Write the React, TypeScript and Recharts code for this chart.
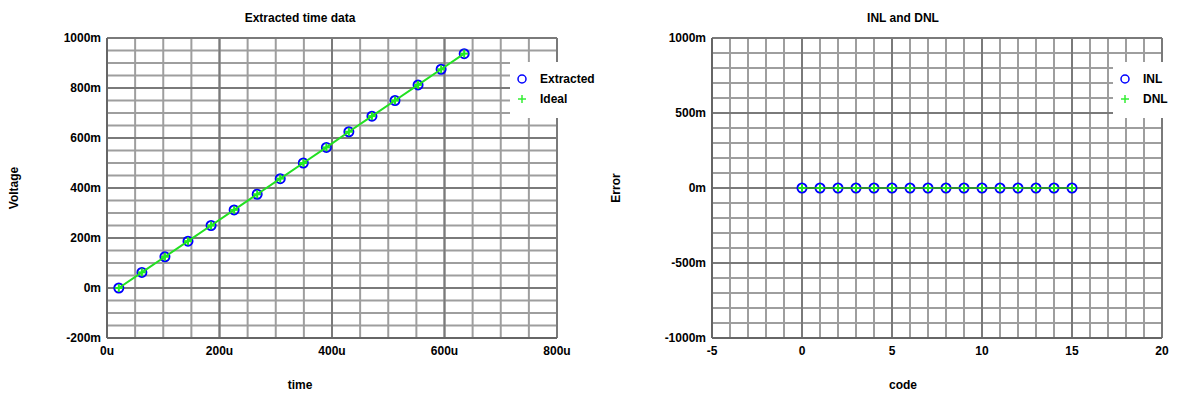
import {
  ScatterChart,
  Scatter,
  XAxis,
  YAxis,
  ReferenceLine,
  Legend,
} from "recharts";

const times = [21, 62, 103, 144, 185, 226, 267, 308, 349, 390, 430, 471, 512, 553, 594, 635]; // u
const extractedVoltage = [0, 62.5, 125, 187.5, 250, 312.5, 375, 437.5, 500, 562.5, 625, 687.5, 750, 812.5, 875, 937.5]; // m
const idealVoltage = [0, 62.5, 125, 187.5, 250, 312.5, 375, 437.5, 500, 562.5, 625, 687.5, 750, 812.5, 875, 937.5]; // m

const codes = [0, 1, 2, 3, 4, 5, 6, 7, 8, 9, 10, 11, 12, 13, 14, 15];
const inl = [0, 0, 0, 0, 0, 0, 0, 0, 0, 0, 0, 0, 0, 0, 0, 0];
const dnl = [0, 0, 0, 0, 0, 0, 0, 0, 0, 0, 0, 0, 0, 0, 0, 0];

const timeTicks = [0, 200, 400, 600, 800];
const voltageTicks = [-200, 0, 200, 400, 600, 800, 1000];
const codeTicks = [-5, 0, 5, 10, 15, 20];
const errorTicks = [-1000, -500, 0, 500, 1000];

// minor grid steps
const range = (a: number, b: number, step: number) => {
  const out: number[] = [];
  for (let v = a; v <= b + 1e-9; v += step) out.push(v);
  return out;
};
const timeMinor = range(0, 800, 50);
const voltageMinor = range(-200, 1000, 50);
const codeMinor = range(-5, 20, 1);
const errorMinor = range(-1000, 1000, 100);

const extractedData = times.map((t, i) => ({ x: t, y: extractedVoltage[i] }));
const idealData = times.map((t, i) => ({ x: t, y: idealVoltage[i] }));
const inlData = codes.map((c, i) => ({ x: c, y: inl[i] }));
const dnlData = codes.map((c, i) => ({ x: c, y: dnl[i] }));

const FONT = "'Liberation Sans', Arial, sans-serif";
const tickStyle = { fill: "#000", fontSize: 12, fontWeight: 700, fontFamily: FONT };
const axisLine = { stroke: "#666", strokeWidth: 2 };
const MINOR = "#9e9e9e";
const MAJOR = "#7a7a7a";

const gridLines = (xs: number[], ys: number[], color: string, tag: string) => [
  ...xs.map((v) => (
    <ReferenceLine key={`${tag}x${v}`} x={v} stroke={color} strokeWidth={2} ifOverflow="visible" />
  )),
  ...ys.map((v) => (
    <ReferenceLine key={`${tag}y${v}`} y={v} stroke={color} strokeWidth={2} ifOverflow="visible" />
  )),
];

const Circle = (props: any) => {
  const { cx, cy } = props;
  if (cx == null || cy == null) return null;
  return <circle cx={cx} cy={cy} r={4.5} fill="none" stroke="#0000ff" strokeWidth={2} />;
};

const Plus = (color: string) => (props: any) => {
  const { cx, cy } = props;
  if (cx == null || cy == null) return null;
  return (
    <g stroke={color} strokeWidth={2}>
      <line x1={cx - 4} y1={cy} x2={cx + 4} y2={cy} />
      <line x1={cx} y1={cy - 4} x2={cx} y2={cy + 4} />
    </g>
  );
};

const LegendBox = ({ labels, width }: { labels: string[]; width: number }) => (
  <svg width={width} height={56} style={{ display: "block", background: "#fff" }}>
    <circle cx={12} cy={17} r={4} fill="none" stroke="#0000ff" strokeWidth={1.5} />
    <g stroke="#33ee33" strokeWidth={1.5}>
      <line x1={8} y1={37} x2={16} y2={37} />
      <line x1={12} y1={33} x2={12} y2={41} />
    </g>
    <text x={30} y={21} fontSize={12} fontWeight={700} fontFamily={FONT} fill="#000">
      {labels[0]}
    </text>
    <text x={30} y={41} fontSize={12} fontWeight={700} fontFamily={FONT} fill="#000">
      {labels[1]}
    </text>
  </svg>
);

const textStyle: React.CSSProperties = {
  position: "absolute",
  fontFamily: FONT,
  fontWeight: 700,
  fontSize: 12,
  color: "#000",
  whiteSpace: "nowrap",
  transform: "translate(-50%, -50%)",
};

export default function App() {
  return (
    <div
      style={{
        position: "absolute",
        left: 0,
        top: 0,
        width: 1191,
        height: 399,
        background: "#fff",
        fontFamily: FONT,
      }}
    >
      <div style={{ position: "absolute", left: 0, top: 0 }}>
        <ScatterChart width={595} height={399} margin={{ top: 38, right: 38, bottom: 41, left: 0 }}>
          {gridLines(timeMinor, voltageMinor, MINOR, "m")}
          {gridLines(timeTicks, voltageTicks, MAJOR, "M")}
          <XAxis
            type="number"
            dataKey="x"
            domain={[0, 800]}
            ticks={timeTicks}
            tickFormatter={(v) => `${v}u`}
            tick={tickStyle}
            tickLine={false}
            axisLine={axisLine}
            height={20}
            interval={0}
          />
          <YAxis
            type="number"
            dataKey="y"
            domain={[-200, 1000]}
            ticks={voltageTicks}
            tickFormatter={(v) => `${v}m`}
            tick={tickStyle}
            tickLine={false}
            tickSize={4}
            axisLine={axisLine}
            width={107}
            interval={0}
          />
          <Scatter name="Extracted" data={extractedData} shape={Circle} isAnimationActive={false} />
          <Scatter
            name="Ideal"
            data={idealData}
            shape={Plus("#22ee22")}
            line={{ stroke: "#22e022", strokeWidth: 2 }}
            lineType="joint"
            isAnimationActive={false}
          />
          <Legend
            layout="horizontal"
            align="center"
            verticalAlign="middle"
            wrapperStyle={{ left: 510, top: 62, width: 90, height: 56 }}
            content={() => <LegendBox labels={["Extracted", "Ideal"]} width={90} />}
          />
        </ScatterChart>
      </div>

      <div style={{ position: "absolute", left: 596, top: 0 }}>
        <ScatterChart width={595} height={399} margin={{ top: 38, right: 29, bottom: 41, left: 0 }}>
          {gridLines(codeMinor, errorMinor, MINOR, "m")}
          {gridLines(codeTicks, errorTicks, MAJOR, "M")}
          <XAxis
            type="number"
            dataKey="x"
            domain={[-5, 20]}
            ticks={codeTicks}
            tick={tickStyle}
            tickLine={false}
            axisLine={axisLine}
            height={20}
            interval={0}
          />
          <YAxis
            type="number"
            dataKey="y"
            domain={[-1000, 1000]}
            ticks={errorTicks}
            tickFormatter={(v) => `${v}m`}
            tick={tickStyle}
            tickLine={false}
            tickSize={4}
            axisLine={axisLine}
            width={116}
            interval={0}
          />
          <Scatter name="INL" data={inlData} shape={Circle} isAnimationActive={false} />
          <Scatter
            name="DNL"
            data={dnlData}
            shape={Plus("#22dd22")}
            line={{ stroke: "#2f8f2f", strokeWidth: 2 }}
            lineType="joint"
            isAnimationActive={false}
          />
          <Legend
            layout="horizontal"
            align="center"
            verticalAlign="middle"
            wrapperStyle={{ left: 517, top: 62, width: 68, height: 56 }}
            content={() => <LegendBox labels={["INL", "DNL"]} width={68} />}
          />
        </ScatterChart>
      </div>

      <div style={{ ...textStyle, left: 300, top: 18 }}>Extracted time data</div>
      <div style={{ ...textStyle, left: 903, top: 18 }}>INL and DNL</div>
      <div style={{ ...textStyle, left: 300, top: 385 }}>time</div>
      <div style={{ ...textStyle, left: 903, top: 385 }}>code</div>
      <div style={{ ...textStyle, left: 14, top: 188, transform: "translate(-50%, -50%) rotate(-90deg)" }}>
        Voltage
      </div>
      <div style={{ ...textStyle, left: 616, top: 188, transform: "translate(-50%, -50%) rotate(-90deg)" }}>
        Error
      </div>
    </div>
  );
}
